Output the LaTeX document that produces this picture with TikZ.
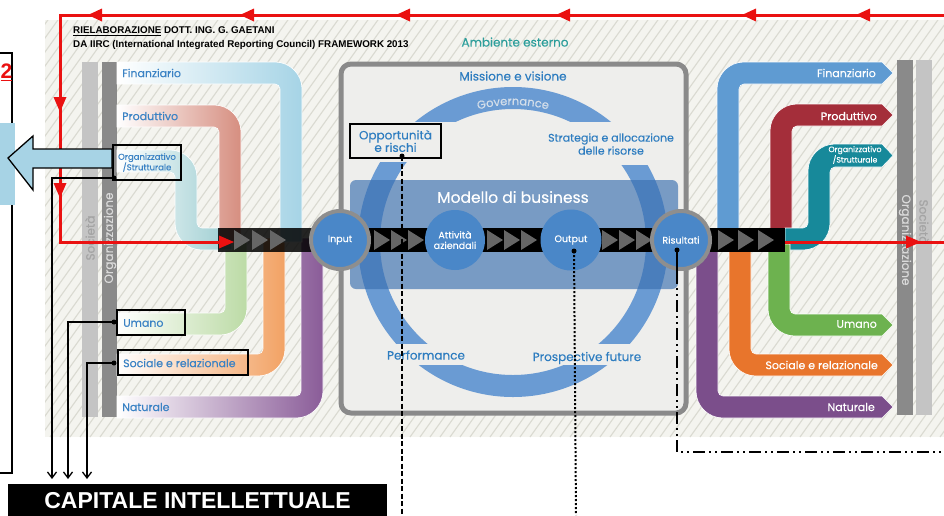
\documentclass[tikz,border=0pt]{standalone}
\usepackage{fontspec}
\setmainfont{Poppins}[UprightFeatures={FakeBold=0.25}]
\newfontfamily\arialf{Liberation Sans}
\usetikzlibrary{arrows.meta,decorations.text}
\definecolor{bgc}{HTML}{F4F4EF}
\definecolor{hatchc}{HTML}{DADAD1}
\definecolor{boxbg}{HTML}{EEEEEC}
\definecolor{boxbd}{HTML}{8A8A8A}
\definecolor{ringc}{HTML}{6A9BD3}
\definecolor{bandc}{HTML}{3A6FB0}
\definecolor{circc}{HTML}{4A87C8}
\definecolor{circbd}{HTML}{8E8E8E}
\definecolor{govc}{HTML}{D3DEEA}
\definecolor{lbl}{HTML}{3A82C4}
\definecolor{ctc}{HTML}{2E7DC0}
\definecolor{ambc}{HTML}{2D9E9B}
\definecolor{finL}{HTML}{A6D4E6}
\definecolor{prodL}{HTML}{D68E80}
\definecolor{orgL}{HTML}{9ACCD0}
\definecolor{umL}{HTML}{BCDBA6}
\definecolor{socL}{HTML}{F2A264}
\definecolor{natL}{HTML}{8A5C98}
\definecolor{finR}{HTML}{5F9BD2}
\definecolor{prodR}{HTML}{A42E3A}
\definecolor{orgR}{HTML}{17899A}
\definecolor{umR}{HTML}{6DB24F}
\definecolor{socR}{HTML}{E8752C}
\definecolor{natR}{HTML}{7B4E8B}
\definecolor{socB}{HTML}{C4C4C4}
\definecolor{orgB}{HTML}{8A8A8A}
\definecolor{socT}{HTML}{A4A4A4}
\definecolor{orgT}{HTML}{DADADA}
\definecolor{redc}{HTML}{EA1111}
\definecolor{lblue}{HTML}{A7D3E5}
\definecolor{chevc}{HTML}{666666}
\newcommand\fsz[1]{\fontsize{#1}{#1}\selectfont}
\newcommand\govfmt{\fontsize{11.5}{11.5}\selectfont\color{govc}}
% left bands (upper: right then down)
\newcommand\bandUL[3]{\shadedraw[left color=white, right color=#3, draw=white, line width=0.6pt] (117,#1) -- ({#2-27},#1) arc[start angle=-90,end angle=0,radius=27] -- (#2,242) -- ({#2-22},242) -- ({#2-22},{#1+27}) arc[start angle=0,end angle=-90,radius=5] -- (117,{#1+22}) -- cycle;}
\newcommand\bandLL[3]{\shadedraw[left color=white, right color=#3, draw=white, line width=0.6pt] (117,#1) -- ({#2-27},#1) arc[start angle=90,end angle=0,radius=27] -- (#2,238) -- ({#2-22},238) -- ({#2-22},{#1-27}) arc[start angle=0,end angle=90,radius=5] -- (117,{#1-22}) -- cycle;}
\newcommand\bandUR[3]{\filldraw[fill=#3, draw=white, line width=0.6pt] (#1,236) -- (#1,{#2+27}) arc[start angle=180,end angle=270,radius=27] -- (882,#2) -- (893,{#2+11}) -- (882,{#2+22}) -- ({#1+27},{#2+22}) arc[start angle=270,end angle=180,radius=5] -- ({#1+22},236) -- cycle;}
\newcommand\bandLR[3]{\filldraw[fill=#3, draw=white, line width=0.6pt] (#1,244) -- (#1,{#2-27}) arc[start angle=180,end angle=90,radius=27] -- (882,#2) -- (893,{#2-11}) -- (882,{#2-22}) -- ({#1+27},{#2-22}) arc[start angle=90,end angle=180,radius=5] -- ({#1+22},244) -- cycle;}
\newcommand\chevat[1]{\fill[chevc] (#1,230) -- ++(16,10) -- ++(-16,10) -- cycle;}
\newcommand\redleft[1]{\fill[redc] (#1,15) -- ++(14,-6.5) -- ++(0,13) -- cycle;}
\newcommand\reddown[1]{\fill[redc] (60,#1) -- ++(-6.5,-15) -- ++(13,0) -- cycle;}
\newcommand\redright[1]{\fill[redc] (#1,242) -- ++(-15,-6.5) -- ++(0,13) -- cycle;}
\begin{document}
\begin{tikzpicture}[x=1pt,y=-1pt,
  lab/.style={text=lbl, font=\fsz{11}, inner sep=0pt, anchor=west},
  rlab/.style={text=white, font=\fsz{11}, inner sep=0pt, anchor=east},
  ctext/.style={text=ctc, font=\fsz{12}, inner sep=0pt, align=center},
  circtxt/.style={text=white, font=\fontsize{9.5}{10.5}\selectfont, align=center, inner sep=0pt},
  lbox/.style={draw=black, line width=1.3pt, inner sep=0pt},
  redl/.style={draw=redc, line width=3pt},
  conn/.style={draw=black, line width=1.3pt},
  dotm/.style={fill=black, circle, inner sep=0pt, minimum size=5pt},
  bartext/.style={font=\fsz{12}, inner sep=0pt},
]
\useasboundingbox (0,0) rectangle (944,515);
\fill[white] (0,0) rectangle (944,515);
% hatched background
\fill[bgc] (45,20) rectangle (944,437);
\begin{scope}
\clip (45,20) rectangle (944,437);
\foreach \i in {0,...,122} { \draw[hatchc, line width=1.1pt] ({-260+\i*10},437) -- ++(300,-420); }
\end{scope}
% left clipped box
\draw[line width=1.3pt] (-2,53) -- (12,53) -- (12,473) -- (-2,473);
\fill[lblue] (-1,123) rectangle (15,205);
\node[anchor=east, text=redc, font=\arialf\bfseries\fsz{21}, inner sep=0pt] (two) at (12.5,72) {\underline{2}};
% gray bars
\fill[socB] (82,62) rectangle (98,417);
\fill[orgB] (102,62) rectangle (117,417);
\node[bartext, rotate=90, text=socT] (socLt) at (90,238) {Società};
\node[bartext, rotate=90, text=orgT] (orgLt) at (110,238) {Organizzazione};
\fill[orgB] (897,60) rectangle (913,415);
\fill[socB] (916,60) rectangle (932,415);
\node[bartext, rotate=-90, text=orgT] (orgRt) at (905,240) {Organizzazione};
\node[bartext, rotate=-90, text=socT] (socRt) at (924,222) {Società};
% left bands
\bandLL{418}{323}{natL}
\bandLL{376}{285}{socL}
\bandLL{335}{247}{umL}
\shadedraw[left color=white, right color=orgL, draw=white, line width=0.6pt] (117,150) -- (170,150) arc[start angle=-90,end angle=0,radius=27] -- (197,223) arc[start angle=180,end angle=90,radius=5] -- (232,228) -- (232,250) -- (202,250) arc[start angle=90,end angle=180,radius=27] -- (175,177) arc[start angle=0,end angle=-90,radius=5] -- (117,172) -- cycle;
\bandUL{105}{241}{prodL}
\bandUL{62}{302}{finL}
% right bands
\bandUR{717}{62}{finR}
\bandUR{770}{104}{prodR}
\filldraw[fill=orgR, draw=white, line width=0.6pt] (785,228) -- (803,228) arc[start angle=90,end angle=0,radius=5] -- (808,171) arc[start angle=180,end angle=270,radius=27] -- (882,144) -- (893,155.5) -- (882,167) -- (835,167) arc[start angle=270,end angle=180,radius=5] -- (830,223) arc[start angle=0,end angle=90,radius=27] -- (785,250) -- cycle;
\bandLR{696}{418}{natR}
\bandLR{729}{376}{socR}
\bandLR{768}{336}{umR}
% central box
\filldraw[fill=boxbg, draw=boxbd, line width=5pt, rounded corners=10pt] (341,64) rectangle (686,413);
\draw[ringc, line width=22pt] (513,242) circle[radius=144];
\fill[boxbg] (395,344) rectangle (632,365);
\fill[boxbg] (565,122) rectangle (672,165);
\fill[boxbg] (352,122) rectangle (462,162);
\path[decorate, decoration={text along path, text={|\govfmt|Governance}, text align=center}] (513,242) ++(-125:137) arc[start angle=-125, end angle=-55, radius=137];
\fill[bandc, opacity=0.65, rounded corners=6pt] (350,180) rectangle (678,289);
\node[text=white, font=\fsz{15.5}, inner sep=0pt] (mdb) at (513,197) {Modello di business};
\node[ctext] (miss) at (513,76) {Missione e visione};
\node[ctext, font=\fontsize{11}{13}\selectfont] (strat) at (611,144) {Strategia e allocazione\\delle risorse};
\node[ctext] (perf) at (426,355) {Performance};
\node[ctext] (prosp) at (587,358) {Prospective future};
\node[lbox, fill=boxbg, minimum width=91pt, minimum height=34pt, text=ctc, font=\fontsize{12}{12.5}\selectfont, align=center] (oppbox) at (395.5,141) {Opportunità\\e rischi};
% black process bar
\fill[black, opacity=0.85] (218,228) rectangle (312,252);
\fill[black] (312,228) rectangle (785,252);
\foreach \cx in {234,252,270,374,391,408,487,504,521,602,619,636,718,738,758} {\chevat{\cx}}
\node[circle, fill=circc, draw=circbd, line width=4pt, minimum size=58pt, circtxt] (inp) at (340,240) {Input};
\node[circle, fill=circc, minimum size=60pt, circtxt] (att) at (455,240) {Attività\\aziendali};
\node[circle, fill=circc, minimum size=61pt, circtxt] (outc) at (571,240) {Output};
\node[circle, fill=circc, draw=circbd, line width=4pt, minimum size=58pt, circtxt] (ris) at (681,240) {Risultati};
% header and environment
\node[anchor=west, font=\arialf\bfseries\fsz{9.8}, inner sep=0pt] (h1) at (73,31) {\underline{RIELABORAZIONE} DOTT. ING. G. GAETANI};
\node[anchor=west, font=\arialf\bfseries\fsz{9.8}, inner sep=0pt] (h2) at (73,44.5) {DA IIRC (International Integrated Reporting Council) FRAMEWORK 2013};
\node[text=ambc, font=\fsz{12}, inner sep=0pt] (amb) at (515,42) {Ambiente esterno};
% left labels
\node[lab] (finLt) at (122,73) {Finanziario};
\node[lab] (prodLt) at (122,116) {Produttivo};
\node[lbox, minimum width=68pt, minimum height=35pt, text=lbl, font=\fontsize{8.5}{10.5}\selectfont, align=center] (orgbox) at (147,162.5) {Organizzativo\\/Strutturale};
\node[lbox, minimum width=68pt, minimum height=25pt] (umbox) at (151,322.5) {};
\node[lab] (umLt) at (123,323) {Umano};
\node[lbox, minimum width=130pt, minimum height=25pt] (socbox) at (183,362.5) {};
\node[lab] (socLt2) at (123,363) {Sociale e relazionale};
\node[lab] (natLt) at (122,407) {Naturale};
% right labels
\node[rlab] (finRt) at (876,73) {Finanziario};
\node[rlab] (prodRt) at (877,116) {Produttivo};
\node[text=white, font=\fontsize{7.8}{9}\selectfont, align=center, inner sep=0pt] (orgRl) at (855,155) {Organizzativo\\/Strutturale};
\node[rlab] (umRt) at (877,324) {Umano};
\node[rlab] (socRt2) at (878,365) {Sociale e relazionale};
\node[rlab] (natRt) at (875,407) {Naturale};
% red loop
\coordinate (rA) at (944,15);
\coordinate (rB) at (60,15);
\coordinate (rC) at (60,242);
\coordinate (rD) at (228,242);
\coordinate (rE) at (785,242);
\coordinate (rF) at (944,242);
\draw[redl] (rA) -- (rB) -- (rC) -- (rD);
\draw[redl] (rE) -- (rF);
\foreach \x in {88,240,396,556,742,856} {\redleft{\x}}
\reddown{112}
\reddown{198}
\redright{234}
\redright{921}
% big left arrow
\filldraw[fill=lblue, draw=black, line width=1.3pt] (8,158) -- (33,136) -- (33,149) -- (112,149) -- (112,168) -- (33,168) -- (33,190) -- cycle;
% connectors to capitale intellettuale
\node[dotm] (d1) at (114,178) {};
\node[dotm] (d2) at (114,322) {};
\node[dotm] (d3) at (114,363) {};
\coordinate (a1) at (52,479);
\coordinate (a2) at (68,479);
\coordinate (a3) at (87,479);
\draw[conn, -{Straight Barb[length=6pt,width=9pt]}] (d1.center) -| (a1);
\draw[conn, -{Straight Barb[length=6pt,width=9pt]}] (d2.center) -| (a2);
\draw[conn, -{Straight Barb[length=6pt,width=9pt]}] (d3.center) -| (a3);
% dashed lines from centre
\node[dotm] (dOpp) at (402,156) {};
\node[dotm] (dOut) at (574,251) {};
\node[dotm] (dRis) at (677,250) {};
\coordinate (oB) at (402,515);
\coordinate (uB) at (576,515);
\coordinate (r1) at (677,272);
\coordinate (r2) at (677,452);
\coordinate (r3) at (944,452);
\draw[line width=2pt, dash pattern=on 5pt off 2.5pt] (dOpp.center) -- (oB);
\draw[line width=2pt, dash pattern=on 2pt off 2pt] (dOut.center) -- (uB);
\draw[line width=2pt] (dRis.center) -- (r1);
\draw[line width=2pt, dash pattern=on 12pt off 4pt on 2pt off 4pt on 2pt off 4pt] (r1) -- (r2) -- (r3);
% capitale intellettuale
\node[fill=black, text=white, font=\arialf\bfseries\fsz{23}, minimum width=379pt, minimum height=34pt, inner sep=0pt] (cap) at (197.5,501) {CAPITALE INTELLETTUALE};
\end{tikzpicture}
\end{document}
